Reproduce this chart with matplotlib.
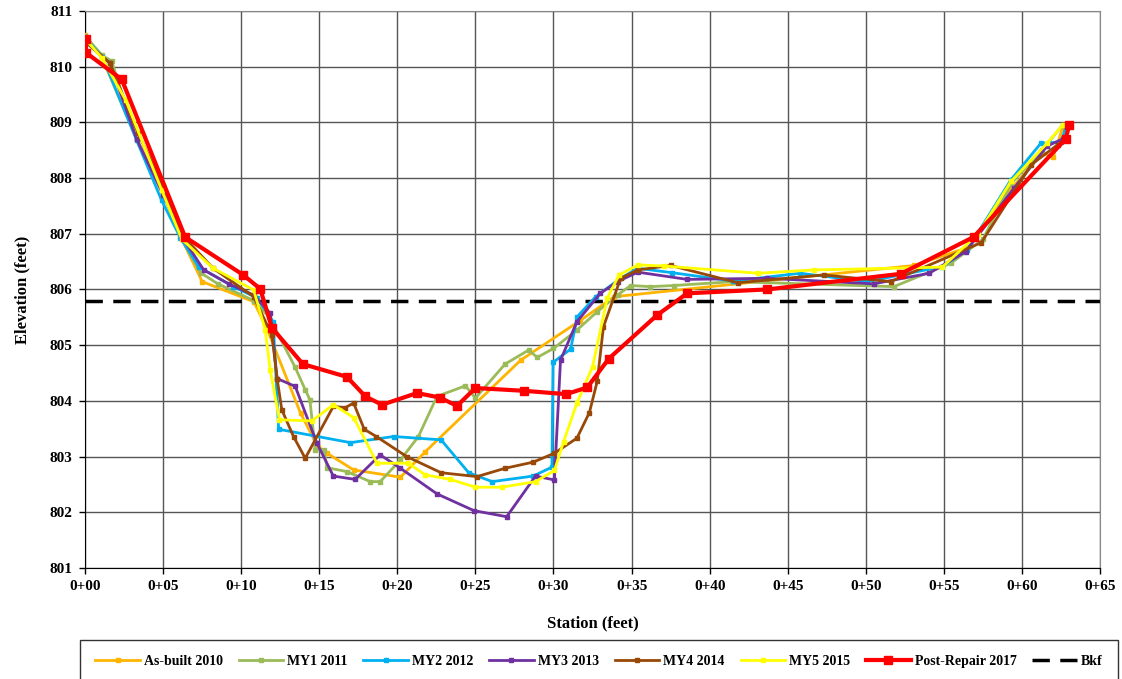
import matplotlib
matplotlib.use('Agg')
import matplotlib.pyplot as plt

# ====================================================================
# Data (station in feet, elevation in feet)
# ====================================================================
asbuilt_x = [0, 1.1, 3.3, 5.0, 6.2, 7.5, 10.8, 11.6, 13.8, 14.9, 15.5, 17.2, 20.2, 21.8, 27.9, 31.7, 33.9,
             53.1, 56.5, 59.3, 61.3, 62.0, 62.6]
asbuilt_y = [810.57, 810.15, 808.7, 807.75, 806.9, 806.14, 805.78, 805.33, 803.78, 803.18, 803.06, 802.76, 802.63,
             803.09, 804.73, 805.44, 805.87, 806.43, 806.75, 807.8, 808.45, 808.38, 808.9]

my1_x = [0, 1.1, 1.7, 3.3, 5.0, 6.2, 7.4, 8.5, 10.8, 11.8, 13.46, 14.1, 14.4, 14.74, 15.3, 15.5, 16.77, 18.27,
         18.9, 20.2, 21.35, 22.54, 24.36, 25.0, 26.9, 28.4, 28.96, 30.0, 31.5, 32.8, 34.1, 34.94, 36.2, 37.7,
         41.5, 51.8, 55.45, 57.5, 59.3, 61.3, 62.6]
my1_y = [810.55, 810.2, 810.1, 808.7, 807.75, 806.9, 806.3, 806.1, 805.8, 805.5, 804.6, 804.2, 804.02, 803.12,
         803.12, 802.8, 802.73, 802.55, 802.55, 802.94, 803.36, 804.08, 804.27, 804.05, 804.66, 804.91, 804.78,
         804.94, 805.27, 805.6, 805.9, 806.07, 806.05, 806.07, 806.14, 806.05, 806.47, 806.9, 807.9, 808.5, 808.95]

my2_x = [0, 1.1, 3.3, 4.9, 6.1, 7.3, 9.5, 11.0, 12.05, 12.4, 17.0, 19.76, 22.8, 24.57, 26.07, 28.7, 29.9, 29.97,
         31.1, 31.52, 32.7, 34.3, 35.4, 37.6, 41.5, 45.8, 50.1, 54.9, 56.5, 59.3, 61.2, 62.5, 62.8]
my2_y = [810.5, 810.18, 808.68, 807.6, 806.93, 806.4, 806.05, 805.85, 805.42, 803.49, 803.25, 803.36, 803.3,
         802.71, 802.55, 802.65, 802.81, 804.69, 804.93, 805.51, 805.87, 806.2, 806.38, 806.3, 806.15, 806.29,
         806.14, 806.41, 806.71, 807.97, 808.62, 808.65, 808.9]

my3_x = [0, 1.6, 3.3, 5.0, 6.2, 7.6, 9.2, 10.8, 11.86, 12.3, 13.46, 14.85, 15.9, 17.3, 18.9, 20.2, 22.54, 24.9,
         27.0, 28.85, 30.06, 30.45, 31.5, 33.0, 34.1, 35.4, 38.56, 43.7, 50.5, 54.06, 56.4, 59.5, 61.6, 62.6]
my3_y = [810.45, 810.06, 808.7, 807.7, 806.95, 806.35, 806.1, 805.9, 805.57, 804.4, 804.26, 803.24, 802.65,
         802.59, 803.03, 802.79, 802.33, 802.03, 801.92, 802.65, 802.58, 804.73, 805.42, 805.93, 806.14, 806.31,
         806.18, 806.2, 806.1, 806.29, 806.68, 807.82, 808.57, 808.7]

my4_x = [0, 1.6, 3.4, 5.0, 6.3, 8.2, 10.8, 11.97, 12.3, 12.6, 13.35, 14.1, 15.9, 16.67, 17.2, 17.88, 18.65, 20.6,
         22.8, 25.1, 26.9, 28.7, 30.06, 31.5, 32.3, 32.8, 33.2, 34.3, 35.4, 37.5, 41.8, 47.3, 51.6, 57.4, 60.6,
         62.3, 62.8]
my4_y = [810.45, 810.06, 808.8, 807.85, 806.95, 806.38, 805.87, 805.18, 804.4, 803.84, 803.36, 802.97, 803.9,
         803.88, 803.96, 803.49, 803.36, 803.0, 802.71, 802.64, 802.79, 802.9, 803.06, 803.33, 803.79, 804.35,
         805.33, 806.2, 806.35, 806.43, 806.12, 806.26, 806.14, 806.84, 808.24, 808.6, 808.7]

my5_x = [0, 1.1, 2.6, 4.9, 6.2, 8.2, 10.8, 11.54, 11.86, 12.45, 14.53, 15.9, 17.2, 18.7, 20.7, 21.8, 23.4, 25.0,
         26.7, 28.85, 30.06, 30.65, 31.5, 32.5, 33.44, 34.2, 35.4, 37.1, 43.1, 46.7, 54.9, 57.2, 59.3, 61.6, 62.6]
my5_y = [810.5, 810.15, 809.4, 807.79, 806.9, 806.38, 805.99, 805.27, 804.55, 803.66, 803.64, 803.93, 803.7,
         802.88, 802.88, 802.67, 802.59, 802.45, 802.45, 802.55, 802.75, 803.27, 803.96, 804.61, 805.84, 806.26,
         806.44, 806.42, 806.29, 806.35, 806.4, 807.0, 807.94, 808.62, 808.95]

post_x = [0.06, 0.06, 2.35, 6.41, 10.13, 11.22, 11.97, 13.95, 16.77, 17.95, 19.02, 21.26, 22.71, 23.82, 25.0,
          28.14, 30.81, 32.16, 33.55, 36.64, 38.56, 43.7, 52.24, 56.9, 62.8, 63.03]
post_y = [810.5, 810.25, 809.77, 806.94, 806.26, 806.01, 805.31, 804.66, 804.43, 804.08, 803.93, 804.14, 804.06,
          803.91, 804.23, 804.18, 804.12, 804.24, 804.76, 805.54, 805.93, 806.0, 806.28, 806.94, 808.70, 808.95]

bkf_x = [0, 65]
bkf_y = [805.8, 805.8]

x_ticks = list(range(0, 66, 5))
x_labels = ['0+%02d' % v for v in x_ticks]
y_ticks = list(range(801, 812))

series = [
    ('As-built 2010', asbuilt_x, asbuilt_y, '#FFB400'),
    ('MY1 2011', my1_x, my1_y, '#9BBB59'),
    ('MY2 2012', my2_x, my2_y, '#00B0F0'),
    ('MY3 2013', my3_x, my3_y, '#7030A0'),
    ('MY4 2014', my4_x, my4_y, '#984807'),
    ('MY5 2015', my5_x, my5_y, '#FFFF00'),
]

# ====================================================================
# Plot
# ====================================================================
plt.rcParams['font.family'] = ['Liberation Serif', 'DejaVu Serif']
plt.rcParams['font.weight'] = 'bold'

fig = plt.figure(figsize=(11.22, 6.79), dpi=100)
ax = fig.add_axes([0.0758, 0.1635, 0.9046, 0.8205])

for name, xs, ys, c in series:
    ax.plot(xs, ys, color=c, lw=2, marker='s', ms=3, label=name, zorder=3)
ax.plot(post_x, post_y, color='#FF0000', lw=3, marker='s', ms=6, label='Post-Repair 2017', zorder=4)
ax.plot(bkf_x, bkf_y, color='black', lw=2.5, dashes=(5, 3), label='Bkf', zorder=2)

ax.set_xlim(0, 65)
ax.set_ylim(801, 811)
ax.set_xticks(x_ticks)
ax.set_xticklabels(x_labels)
ax.set_yticks(y_ticks)
ax.tick_params(direction='out', length=4, labelsize=11, width=1, pad=5)
for lab in ax.get_xticklabels() + ax.get_yticklabels():
    lab.set_fontweight('bold')

ax.grid(True, color='#555555', lw=1)
ax.set_axisbelow(True)
for s in ['top', 'right']:
    ax.spines[s].set_color('#888888')
for s in ['left', 'bottom']:
    ax.spines[s].set_color('black')

ax.set_xlabel('Station (feet)', fontsize=12, fontweight='bold', labelpad=16)
ax.set_ylabel('Elevation (feet)', fontsize=12, fontweight='bold', labelpad=14)

# legend box: top edge at ~640 px, running off the bottom of the figure
leg = fig.legend(loc='upper left', ncol=8, mode='expand',
                 bbox_to_anchor=(80 / 1122, 1 - 640 / 679, 1038 / 1122, 0.0),
                 fancybox=False, edgecolor='black', fontsize=10, handlelength=3.2,
                 borderaxespad=0, borderpad=1.1, columnspacing=0.8, handletextpad=0.3)
leg.get_frame().set_linewidth(1)
for t in leg.get_texts():
    t.set_fontweight('bold')

fig.savefig('out.png', dpi=100)
